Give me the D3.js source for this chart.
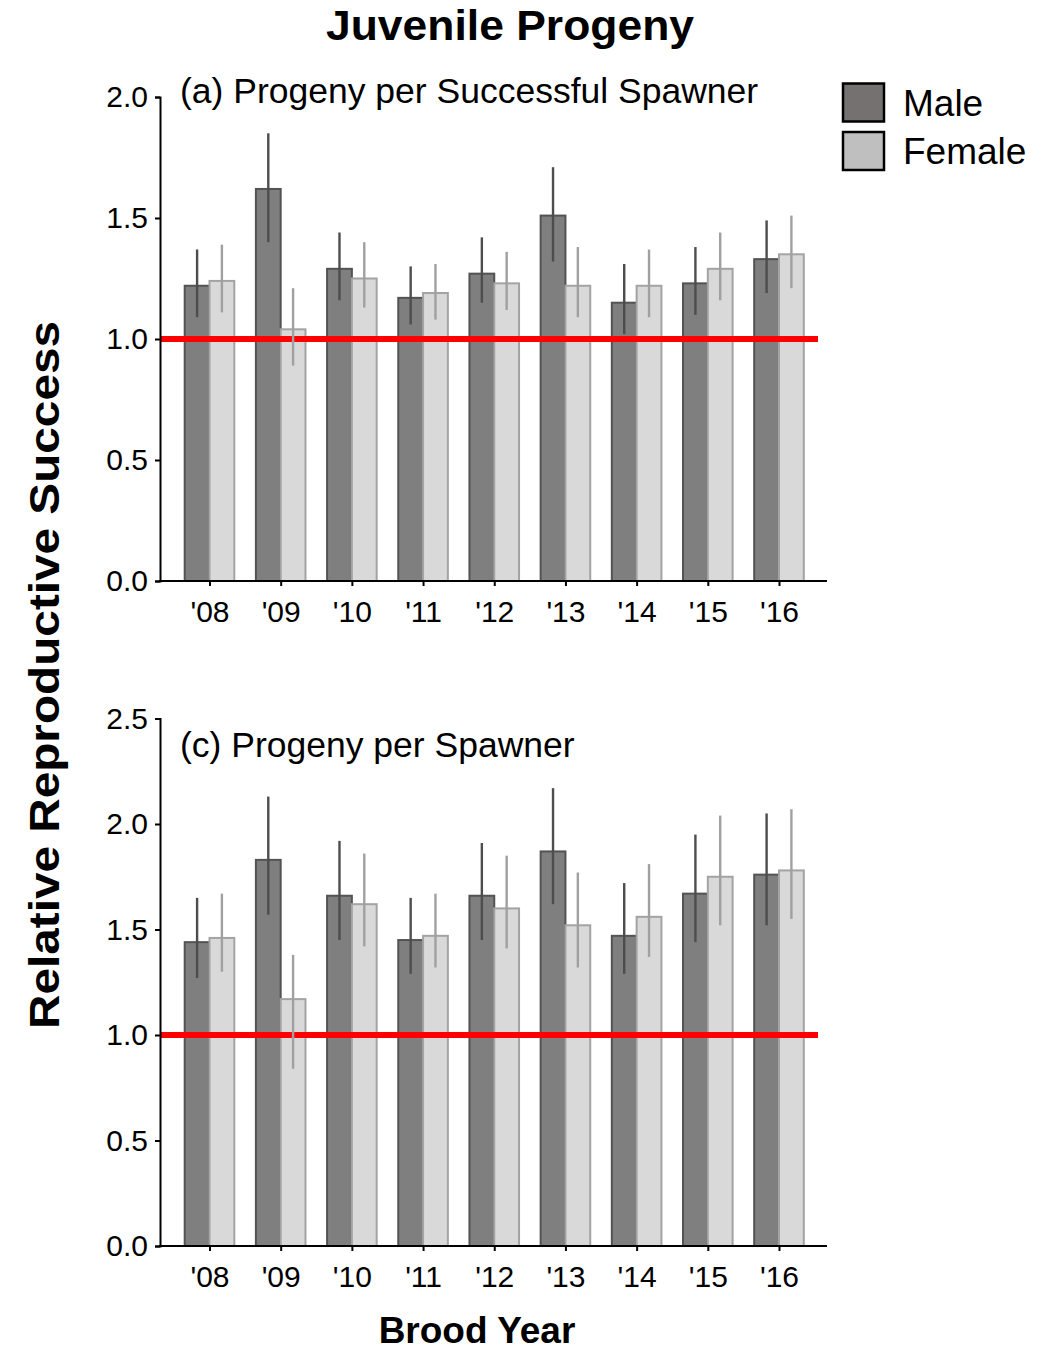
<!DOCTYPE html>
<html>
<head>
<meta charset="utf-8">
<script src="https://cdn.jsdelivr.net/npm/d3@7"></script>
<style>
  body { margin: 0; background: #fff; }
  text { font-family: "Liberation Sans", Arial, sans-serif; }
</style>
</head>
<body>
<svg id="chart" width="1055" height="1350"></svg>
<script>
var years = ["'08", "'09", "'10", "'11", "'12", "'13", "'14", "'15", "'16"];

// (a) progeny per successful spawner
var aMale      = [1.22, 1.62, 1.29, 1.17, 1.27, 1.51, 1.15, 1.23, 1.33];
var aMaleLo    = [1.09, 1.40, 1.16, 1.06, 1.15, 1.32, 1.02, 1.10, 1.19];
var aMaleHi    = [1.37, 1.85, 1.44, 1.30, 1.42, 1.71, 1.31, 1.38, 1.49];
var aFemale    = [1.24, 1.04, 1.25, 1.19, 1.23, 1.22, 1.22, 1.29, 1.35];
var aFemaleLo  = [1.11, 0.89, 1.13, 1.08, 1.12, 1.09, 1.09, 1.16, 1.21];
var aFemaleHi  = [1.39, 1.21, 1.40, 1.31, 1.36, 1.38, 1.37, 1.44, 1.51];

// (c) progeny per spawner
var cMale      = [1.44, 1.83, 1.66, 1.45, 1.66, 1.87, 1.47, 1.67, 1.76];
var cMaleLo    = [1.27, 1.57, 1.45, 1.29, 1.45, 1.62, 1.29, 1.44, 1.52];
var cMaleHi    = [1.65, 2.13, 1.92, 1.65, 1.91, 2.17, 1.72, 1.95, 2.05];
var cFemale    = [1.46, 1.17, 1.62, 1.47, 1.60, 1.52, 1.56, 1.75, 1.78];
var cFemaleLo  = [1.30, 0.84, 1.42, 1.32, 1.41, 1.32, 1.37, 1.52, 1.55];
var cFemaleHi  = [1.67, 1.38, 1.86, 1.67, 1.85, 1.77, 1.81, 2.04, 2.07];

var topTicks = [0, 0.5, 1.0, 1.5, 2.0];
var bottomTicks = [0, 0.5, 1.0, 1.5, 2.0, 2.5];

var svg = d3.select("#chart");

var x = d3.scalePoint()
    .domain(years)
    .range([209.5, 779]);
var barW = 24.8;

function drawPanel(cfg) {
  var y = d3.scaleLinear()
      .domain([0, cfg.max])
      .range([cfg.bottom, cfg.top]);

  var g = svg.append("g");

  var rows = years.map(function(yr, i) {
    return {year: yr, m: cfg.male[i], mLo: cfg.maleLo[i], mHi: cfg.maleHi[i],
            f: cfg.female[i], fLo: cfg.femaleLo[i], fHi: cfg.femaleHi[i]};
  });

  // male bars
  g.selectAll("rect.male")
    .data(rows)
    .enter().append("rect")
      .attr("class", "male")
      .attr("x", function(d) { return x(d.year) - barW; })
      .attr("y", function(d) { return y(d.m); })
      .attr("width", barW)
      .attr("height", function(d) { return y(0) - y(d.m); })
      .attr("fill", "#7f7f7f")
      .attr("stroke", "#535353")
      .attr("stroke-width", 2);

  // female bars
  g.selectAll("rect.female")
    .data(rows)
    .enter().append("rect")
      .attr("class", "female")
      .attr("x", function(d) { return x(d.year); })
      .attr("y", function(d) { return y(d.f); })
      .attr("width", barW)
      .attr("height", function(d) { return y(0) - y(d.f); })
      .attr("fill", "#d9d9d9")
      .attr("stroke", "#a3a3a3")
      .attr("stroke-width", 2);

  // red reference line
  g.append("line")
    .attr("x1", 160).attr("x2", 818)
    .attr("y1", y(1)).attr("y2", y(1))
    .attr("stroke", "#ff0000")
    .attr("stroke-width", 6);

  // error bars
  g.selectAll("line.merr")
    .data(rows)
    .enter().append("line")
      .attr("x1", function(d) { return x(d.year) - barW / 2; })
      .attr("x2", function(d) { return x(d.year) - barW / 2; })
      .attr("y1", function(d) { return y(d.mLo); })
      .attr("y2", function(d) { return y(d.mHi); })
      .attr("stroke", "#4d4d4d")
      .attr("stroke-width", 2.4);

  g.selectAll("line.ferr")
    .data(rows)
    .enter().append("line")
      .attr("x1", function(d) { return x(d.year) + barW / 2; })
      .attr("x2", function(d) { return x(d.year) + barW / 2; })
      .attr("y1", function(d) { return y(d.fLo); })
      .attr("y2", function(d) { return y(d.fHi); })
      .attr("stroke", "#a0a0a0")
      .attr("stroke-width", 2.4);

  // axes
  var yAxis = g.append("g")
      .attr("transform", "translate(160,0)")
      .call(d3.axisLeft(y).tickValues(cfg.ticks).tickFormat(d3.format(".1f")).tickSize(5).tickPadding(7));
  yAxis.select(".domain").attr("stroke-width", 2);
  yAxis.selectAll(".tick line").attr("stroke-width", 2);
  yAxis.selectAll("text").attr("font-size", 30).attr("fill", "#000")
      .attr("font-family", "Liberation Sans, Arial, sans-serif");

  var xAxis = g.append("g")
      .attr("transform", "translate(0," + cfg.bottom + ")")
      .call(d3.axisBottom(x).tickSize(5).tickPadding(15));
  xAxis.select(".domain").remove();
  xAxis.selectAll(".tick line").attr("stroke-width", 2);
  xAxis.selectAll("text").attr("font-size", 30).attr("fill", "#000")
      .attr("font-family", "Liberation Sans, Arial, sans-serif");
  g.append("line")
    .attr("x1", 159).attr("x2", 827)
    .attr("y1", cfg.bottom).attr("y2", cfg.bottom)
    .attr("stroke", "#000")
    .attr("stroke-width", 2);

  g.append("text")
    .attr("x", 180)
    .attr("y", cfg.labelY)
    .attr("font-size", 35.5)
    .text(cfg.label);
}

drawPanel({
  male: aMale, maleLo: aMaleLo, maleHi: aMaleHi,
  female: aFemale, femaleLo: aFemaleLo, femaleHi: aFemaleHi,
  max: 2.0, ticks: topTicks, top: 97, bottom: 581,
  label: "(a) Progeny per Successful Spawner", labelY: 103
});

drawPanel({
  male: cMale, maleLo: cMaleLo, maleHi: cMaleHi,
  female: cFemale, femaleLo: cFemaleLo, femaleHi: cFemaleHi,
  max: 2.5, ticks: bottomTicks, top: 718.5, bottom: 1246,
  label: "(c) Progeny per Spawner", labelY: 757
});

// titles
svg.append("text")
  .attr("x", 510).attr("y", 40)
  .attr("text-anchor", "middle")
  .attr("font-size", 42)
  .attr("font-weight", "bold")
  .attr("textLength", 368)
  .attr("lengthAdjust", "spacingAndGlyphs")
  .text("Juvenile Progeny");

svg.append("text")
  .attr("transform", "translate(59,675) rotate(-90)")
  .attr("text-anchor", "middle")
  .attr("font-size", 42)
  .attr("font-weight", "bold")
  .attr("textLength", 708)
  .attr("lengthAdjust", "spacingAndGlyphs")
  .text("Relative Reproductive Success");

svg.append("text")
  .attr("x", 477).attr("y", 1343)
  .attr("text-anchor", "middle")
  .attr("font-size", 37)
  .attr("font-weight", "bold")
  .text("Brood Year");

// legend
var legendKeys = ["Male", "Female"];
var legendFill = d3.scaleOrdinal().domain(legendKeys).range(["#767171", "#bfbfbf"]);

var legend = svg.append("g")
  .selectAll("g")
  .data(legendKeys)
  .enter().append("g")
    .attr("transform", function(d, i) { return "translate(843," + (83.5 + i * 48.5) + ")"; });

legend.append("rect")
  .attr("width", 41)
  .attr("height", 38)
  .attr("fill", legendFill)
  .attr("stroke", "#000")
  .attr("stroke-width", 2.5);

legend.append("text")
  .attr("x", 60)
  .attr("y", 32)
  .attr("font-size", 37)
  .text(function(d) { return d; });
</script>
</body>
</html>
